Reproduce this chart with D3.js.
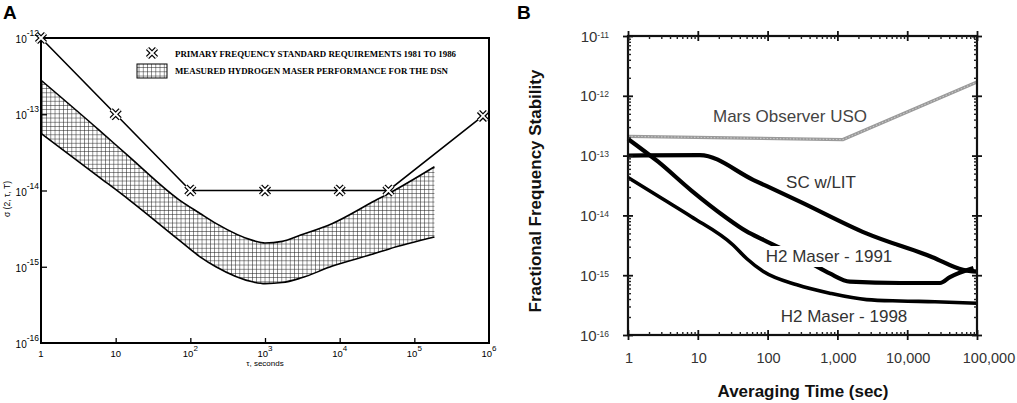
<!DOCTYPE html>
<html>
<head>
<meta charset="utf-8">
<script src="https://cdn.jsdelivr.net/npm/d3@7"></script>
<style>
body { margin: 0; background: #fff; }
svg { display: block; font-family: "Liberation Sans", Arial, sans-serif; }
</style>
</head>
<body>
<svg id="chart" width="1017" height="403"></svg>
<script>
// ---- Panel A data (tau in seconds, sigma) ----
const reqTau   = [1, 10, 100, 1000, 1e4, 4.5e4, 8.3e5];
const reqSigma = [1e-12, 1e-13, 1e-14, 1e-14, 1e-14, 1e-14, 9.5e-14];

const bandTau = [1, 6, 15, 70, 135, 220, 700, 1000, 1700, 3000, 8000, 30000, 45000, 186000];
const bandHi  = [2.8e-13, 6.2e-14, 2.8e-14, 7.6e-15, 5.0e-15, 3.7e-15, 2.2e-15, 2.05e-15, 2.15e-15, 2.6e-15, 3.7e-15, 7.4e-15, 9.1e-15, 2.05e-14];
const bandLo  = [5.6e-14, 1.5e-14, 7.6e-15, 2.25e-15, 1.35e-15, 1.0e-15, 6.3e-16, 6.0e-16, 6.2e-16, 7.1e-16, 1.02e-15, 1.5e-15, 1.7e-15, 2.45e-15];

const tauTicksA   = [1, 10, 1e2, 1e3, 1e4, 1e5, 1e6];
const sigmaTicksA = [1e-12, 1e-13, 1e-14, 1e-15, 1e-16];

// ---- Panel B data ----
const marsTau = [1, 1200, 100000];
const marsSig = [2.1e-13, 1.85e-13, 1.7e-12];

const scTau = [1, 10.7, 63, 290, 2600, 23000, 63000, 100000];
const scSig = [1e-13, 1.02e-13, 3.9e-14, 1.7e-14, 5.0e-15, 2.0e-15, 1.23e-15, 1.15e-15];

const h91Tau = [1, 2.7, 8.1, 24.5, 50, 87, 410, 776, 1510, 7900, 29500, 41000, 89000];
const h91Sig = [1.9e-13, 7.9e-14, 2.6e-14, 9.5e-15, 5.4e-15, 3.9e-15, 1.6e-15, 1.07e-15, 7.8e-16, 7.4e-16, 7.4e-16, 9.3e-16, 1.32e-15];

const h98Tau = [1, 3.2, 8.1, 32, 50, 87, 263, 776, 2630, 7900, 25000, 100000];
const h98Sig = [4.3e-14, 1.86e-14, 9.5e-15, 3.2e-15, 1.9e-15, 1.15e-15, 6.9e-16, 5.0e-16, 3.9e-16, 3.7e-16, 3.6e-16, 3.4e-16];

const tauTicksB   = [1, 10, 100, 1000, 10000, 100000];
const tauLabelsB  = ["1", "10", "100", "1,000", "10,000", "100,000"];
const sigmaTicksB = [1e-11, 1e-12, 1e-13, 1e-14, 1e-15, 1e-16];

const svg = d3.select('#chart');
const defs = svg.append('defs');

// cross-hatch used for the maser band
const hatch = defs.append('pattern')
    .attr('id', 'hatch')
    .attr('patternUnits', 'userSpaceOnUse')
    .attr('width', 4.2).attr('height', 4.2);
hatch.append('path')
    .attr('d', 'M0,0.3H4.2M0.3,0V4.2')
    .attr('stroke', '#222').attr('stroke-width', 0.6);

const zip = (xs, ys) => xs.map((x, i) => [x, ys[i]]);
const exp10 = v => Math.round(Math.log10(v));

// "10" with a raised exponent
function powText(g, x, y, e, opt) {
    const t = g.append('text')
        .attr('x', x).attr('y', y)
        .attr('text-anchor', opt.anchor)
        .attr('fill', opt.fill || '#000')
        .attr('font-size', opt.size);
    t.append('tspan').text('10');
    t.append('tspan')
        .attr('dy', -opt.raise)
        .attr('font-size', opt.supSize)
        .text(e);
    return t;
}

function xMarker(g, x, y) {
    const d = 'M-4.5,-4.5L4.5,4.5M-4.5,4.5L4.5,-4.5';
    const m = g.append('g').attr('transform', `translate(${x},${y})`);
    m.append('path').attr('d', d).attr('stroke', '#000').attr('stroke-width', 4.4).attr('fill', 'none');
    m.append('path').attr('d', d).attr('stroke', '#fff').attr('stroke-width', 1.8).attr('fill', 'none');
}

// ================= Panel A =================
const xA = d3.scaleLog().domain([1, 1e6]).range([41, 489]);
const yA = d3.scaleLog().domain([1e-16, 1e-12]).range([343, 38]);
const gA = svg.append('g');

gA.append('text').attr('x', 3).attr('y', 19)
    .attr('font-size', 19).attr('font-weight', 'bold')
    .text('A');

// band
const bandArea = d3.area()
    .x(d => xA(d[0])).y0(d => yA(d[1])).y1(d => yA(d[2]))
    .curve(d3.curveMonotoneX);
const bandData = bandTau.map((t, i) => [t, bandLo[i], bandHi[i]]);
gA.append('path').datum(bandData)
    .attr('d', bandArea)
    .attr('fill', 'url(#hatch)');

const lineA = d3.line().x(d => xA(d[0])).y(d => yA(d[1])).curve(d3.curveMonotoneX);
[bandHi, bandLo].forEach(arr => {
    gA.append('path').datum(zip(bandTau, arr))
        .attr('d', lineA)
        .attr('fill', 'none').attr('stroke', '#000').attr('stroke-width', 1.6);
});

// requirement line + markers
gA.append('path').datum(zip(reqTau, reqSigma))
    .attr('d', d3.line().x(d => xA(d[0])).y(d => yA(d[1])))
    .attr('fill', 'none').attr('stroke', '#000').attr('stroke-width', 1.6);

// frame
gA.append('rect')
    .attr('x', xA(1)).attr('y', yA(1e-12))
    .attr('width', xA(1e6) - xA(1)).attr('height', yA(1e-16) - yA(1e-12))
    .attr('fill', 'none').attr('stroke', '#000').attr('stroke-width', 2);

zip(reqTau, reqSigma).forEach(d => xMarker(gA, xA(d[0]), yA(d[1])));

// ticks
gA.append('g').attr('transform', `translate(0,${yA(1e-16)})`)
    .call(d3.axisBottom(xA).tickValues(tauTicksA.slice(1, -1)).tickSize(-5).tickFormat(''))
    .call(g => g.select('.domain').remove())
    .selectAll('line').attr('stroke-width', 1.3);
gA.append('g').attr('transform', `translate(${xA(1)},0)`)
    .call(d3.axisLeft(yA).tickValues(sigmaTicksA.slice(1, -1)).tickSize(-6).tickFormat(''))
    .call(g => g.select('.domain').remove())
    .selectAll('line').attr('stroke-width', 1.3);

// tick labels
tauTicksA.forEach(t => {
    const e = exp10(t);
    if (e < 2) {
        gA.append('text').attr('x', xA(t)).attr('y', 357)
            .attr('text-anchor', 'middle').attr('font-size', 9.5)
            .text(e === 0 ? '1' : '10');
    } else {
        powText(gA, xA(t), 357, e, { anchor: 'middle', size: 9.5, supSize: 8, raise: 6 });
    }
});
sigmaTicksA.forEach(s => {
    powText(gA, 39, yA(s) + 5, exp10(s), { anchor: 'end', size: 10, supSize: 8.5, raise: 7 });
});

gA.append('text').attr('x', 265).attr('y', 366)
    .attr('text-anchor', 'middle').attr('font-size', 8)
    .text('\u03c4, seconds');
gA.append('text')
    .attr('transform', 'translate(10,199) rotate(-90)')
    .attr('text-anchor', 'middle').attr('font-size', 8.5)
    .text('\u03c3 (2, \u03c4, T)');

// legend
xMarker(gA, 152, 53);
gA.append('rect').attr('x', 137).attr('y', 64).attr('width', 30).attr('height', 14)
    .attr('fill', 'url(#hatch)').attr('stroke', '#000').attr('stroke-width', 1);
const legFont = '"Liberation Serif", "Times New Roman", serif';
gA.append('text').attr('x', 175).attr('y', 57)
    .attr('font-family', legFont).attr('font-weight', 'bold').attr('font-size', 8.6)
    .attr('textLength', 281).attr('lengthAdjust', 'spacingAndGlyphs')
    .text('PRIMARY FREQUENCY STANDARD REQUIREMENTS 1981 TO 1986');
gA.append('text').attr('x', 175).attr('y', 74)
    .attr('font-family', legFont).attr('font-weight', 'bold').attr('font-size', 8.6)
    .attr('textLength', 273).attr('lengthAdjust', 'spacingAndGlyphs')
    .text('MEASURED HYDROGEN MASER PERFORMANCE FOR THE DSN');

// ================= Panel B =================
const xB = d3.scaleLog().domain([1, 1e5]).range([628, 977]);
const yB = d3.scaleLog().domain([1e-16, 1e-11]).range([335, 36]);
const gB = svg.append('g');

gB.append('text').attr('x', 517).attr('y', 19)
    .attr('font-size', 19).attr('font-weight', 'bold')
    .text('B');

const minorX = [], minorY = [];
for (let e = 0; e < 5; e++) for (let m = 2; m <= 9; m++) minorX.push(m * Math.pow(10, e));
for (let e = -16; e < -11; e++) for (let m = 2; m <= 9; m++) minorY.push(m * Math.pow(10, e));

const lineB = d3.line().x(d => xB(d[0])).y(d => yB(d[1])).curve(d3.curveMonotoneX);
const lineBStraight = d3.line().x(d => xB(d[0])).y(d => yB(d[1]));

// Mars Observer USO (grey, speckled)
const marsPts = zip(marsTau, marsSig);
gB.append('path').datum(marsPts).attr('d', lineBStraight)
    .attr('fill', 'none').attr('stroke', '#9a9a9a').attr('stroke-width', 3.4);
gB.append('path').datum(marsPts).attr('d', lineBStraight)
    .attr('fill', 'none').attr('stroke', '#c8c8c8').attr('stroke-width', 1.1)
    .attr('stroke-dasharray', '1.5,1.8');

[[scTau, scSig, 4.2], [h91Tau, h91Sig, 4.2], [h98Tau, h98Sig, 3.6]].forEach(([t, s, w]) => {
    gB.append('path').datum(zip(t, s)).attr('d', lineB)
        .attr('fill', 'none').attr('stroke', '#000').attr('stroke-width', w)
        .attr('stroke-linejoin', 'round');
});

// frame and ticks
gB.append('rect')
    .attr('x', xB(1)).attr('y', yB(1e-11))
    .attr('width', xB(1e5) - xB(1)).attr('height', yB(1e-16) - yB(1e-11))
    .attr('fill', 'none').attr('stroke', '#111').attr('stroke-width', 2.2);

const tickAxes = [
    [d3.axisBottom(xB), `translate(0,${yB(1e-16)})`, minorX, tauTicksB],
    [d3.axisTop(xB), `translate(0,${yB(1e-11)})`, minorX, tauTicksB],
    [d3.axisLeft(yB), `translate(${xB(1)},0)`, minorY, sigmaTicksB],
    [d3.axisRight(yB), `translate(${xB(1e5)},0)`, minorY, sigmaTicksB]
];
tickAxes.forEach(([ax, tr, minor, major]) => {
    gB.append('g').attr('transform', tr)
        .call(ax.tickValues(minor).tickSize(-3).tickFormat(''))
        .call(g => g.select('.domain').remove())
        .selectAll('line').attr('stroke', '#222').attr('stroke-width', 1.4);
    gB.append('g').attr('transform', tr)
        .call(ax.tickValues(major).tickSize(5).tickFormat(''))
        .call(g => g.select('.domain').remove())
        .call(g => g.selectAll('line').clone().attr('transform', 'scale(-1)'))
        .selectAll('line').attr('stroke', '#111').attr('stroke-width', 1.8);
});

// tick labels
tauTicksB.forEach((t, i) => {
    gB.append('text').attr('x', xB(t) + (i === tauTicksB.length - 1 ? 12 : 1)).attr('y', 363)
        .attr('text-anchor', 'middle').attr('font-size', 14.5).attr('fill', '#333')
        .text(tauLabelsB[i]);
});
sigmaTicksB.forEach(s => {
    powText(gB, 609, yB(s) + 5.5, exp10(s), { anchor: 'end', size: 15, supSize: 8.5, raise: 4, fill: '#333' });
});

gB.append('text').attr('x', 803).attr('y', 397)
    .attr('text-anchor', 'middle').attr('font-size', 17).attr('font-weight', 'bold')
    .attr('fill', '#111')
    .text('Averaging Time (sec)');
gB.append('text')
    .attr('transform', 'translate(541,191) rotate(-90)')
    .attr('text-anchor', 'middle').attr('font-size', 17).attr('font-weight', 'bold')
    .attr('fill', '#111')
    .text('Fractional Frequency Stability');

// series labels
function seriesLabel(x, y, txt, fill, knockout) {
    const t = gB.append('text').attr('x', x).attr('y', y)
        .attr('text-anchor', 'middle').attr('font-size', 17).attr('fill', fill)
        .text(txt);
    if (knockout) {
        const b = t.node().getBBox();
        gB.insert('rect', () => t.node())
            .attr('x', b.x - 3).attr('y', b.y - 1)
            .attr('width', b.width + 6).attr('height', b.height + 2)
            .attr('fill', '#fff');
    }
}
seriesLabel(790, 122, 'Mars Observer USO', '#444', false);
seriesLabel(821, 188, 'SC w/LIT', '#333', false);
seriesLabel(829, 262, 'H2 Maser - 1991', '#333', true);
seriesLabel(844, 322, 'H2 Maser - 1998', '#333', false);
</script>
</body>
</html>
